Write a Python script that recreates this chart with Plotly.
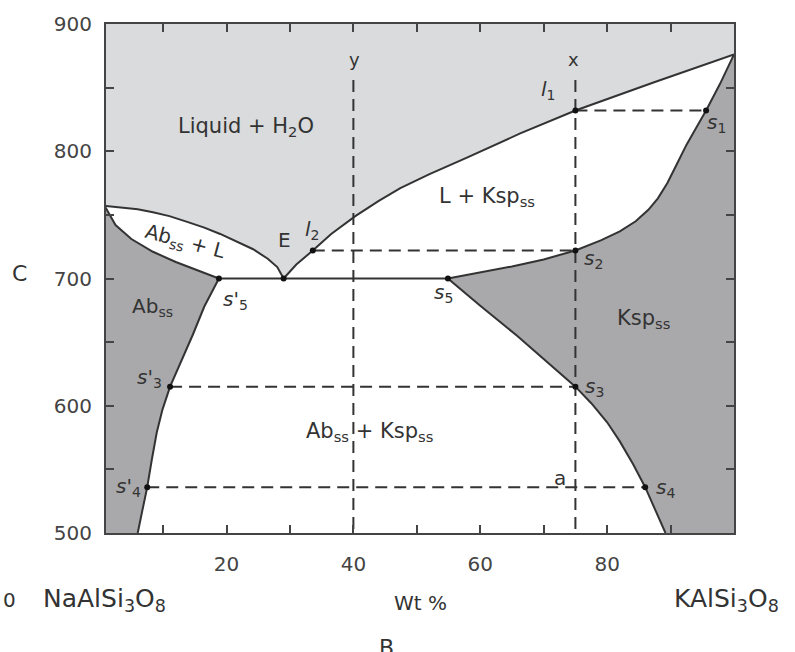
import plotly.graph_objects as go

# ---- data (x: wt% KAlSi3O8, y: temperature °C) ----
ab_liquidus_x = [0.8, 3.2, 6.0, 8.4, 11.0, 13.8, 16.5, 19.0, 21.5, 24.2, 26.5, 28.0, 29.0]
ab_liquidus_y = [757, 756, 754.5, 752, 749, 744.5, 740, 735, 729.5, 723, 715.5, 709, 700]

ab_solidus_x = [0.8, 2.5, 5.0, 8.4, 12.0, 15.5, 18.8]
ab_solidus_y = [757, 742, 731, 721, 713, 706, 700]

ksp_liquidus_x = [29.0, 31.0, 33.6, 36.5, 40.3, 44.0, 47.4, 52.0, 57.9, 66.3, 75.0, 87.3, 100.0]
ksp_liquidus_y = [700, 711, 722, 735, 749, 761, 771, 782, 795, 814, 832, 854, 876]

ksp_solidus_x = [54.9, 60.0, 65.0, 70.0, 75.0, 79.0, 82.0, 84.5, 86.5, 88.0, 89.5, 91.0,
                 92.5, 94.0, 95.6, 97.8, 100.0]
ksp_solidus_y = [700, 704.5, 709.5, 715, 722, 730, 737, 745, 754, 763, 775, 790,
                 805, 818, 832, 853, 876]

ksp_solvus_x = [54.9, 60.0, 65.8, 70.0, 75.0, 77.5, 80.0, 82.0, 84.1, 86.0, 87.6, 89.2]
ksp_solvus_y = [700, 678.5, 655, 637, 615, 602, 587, 572, 554, 536, 518.5, 500]

ab_solvus_x = [18.8, 16.5, 14.7, 12.8, 11.1, 9.9, 9.0, 8.2, 7.5, 6.7, 6.0]
ab_solvus_y = [700, 678, 656, 635, 615, 597, 579, 557, 536, 517, 500]

eutectic_T = 700
eutectic_x = [18.8, 54.9]

# tie lines / isopleths
tie_y = [832, 722, 615, 536]
tie_x0 = [75.0, 33.6, 11.1, 7.5]
tie_x1 = [95.6, 75.0, 75.0, 86.0]
iso_x = [40, 75]
iso_top = 856

# marked points
pt_x = [75.0, 95.6, 33.6, 75.0, 29.0, 18.8, 54.9, 11.1, 75.0, 7.5, 86.0]
pt_y = [832, 832, 722, 722, 700, 700, 700, 615, 615, 536, 536]

x_ticks = [20, 40, 60, 80]
x_minor = [10, 30, 50, 70, 90]
y_ticks = [500, 600, 700, 800, 900]
y_minor = [550, 650, 750, 850]

LIGHT = "#d9dbdc"
DARK = "#a9a9ab"
LINE = "#333333"
TXT = "#333333"
FONT = "DejaVu Sans"

fig = go.Figure()

# region below the liquidus (white)
below_x = ab_liquidus_x + ksp_liquidus_x[1:] + [100, 0.8]
below_y = ab_liquidus_y + ksp_liquidus_y[1:] + [500, 500]
fig.add_trace(go.Scatter(x=below_x, y=below_y, fill="toself", fillcolor="white",
                         line=dict(width=0), mode="lines", hoverinfo="skip"))

# Ab solid solution field
abss_x = ab_solidus_x + ab_solvus_x[1:] + [0.8]
abss_y = ab_solidus_y + ab_solvus_y[1:] + [500]
fig.add_trace(go.Scatter(x=abss_x, y=abss_y, fill="toself", fillcolor=DARK,
                         line=dict(width=0), mode="lines", hoverinfo="skip"))

# Ksp solid solution field
kss_x = ksp_solidus_x[::-1] + ksp_solvus_x[1:] + [100]
kss_y = ksp_solidus_y[::-1] + ksp_solvus_y[1:] + [500]
fig.add_trace(go.Scatter(x=kss_x, y=kss_y, fill="toself", fillcolor=DARK,
                         line=dict(width=0), mode="lines", hoverinfo="skip"))

# boundary curves
for cx, cy in [(ab_liquidus_x, ab_liquidus_y), (ab_solidus_x, ab_solidus_y),
               (ksp_liquidus_x, ksp_liquidus_y), (ksp_solidus_x, ksp_solidus_y),
               (ksp_solvus_x, ksp_solvus_y), (ab_solvus_x, ab_solvus_y),
               (eutectic_x, [eutectic_T, eutectic_T])]:
    fig.add_trace(go.Scatter(x=cx, y=cy, mode="lines",
                             line=dict(color=LINE, width=2), hoverinfo="skip"))

# dashed tie lines
hx, hy = [], []
for y0, a, b in zip(tie_y, tie_x0, tie_x1):
    hx += [a, b, None]
    hy += [y0, y0, None]
fig.add_trace(go.Scatter(x=hx, y=hy, mode="lines",
                         line=dict(color=LINE, width=2, dash="12px,7px"), hoverinfo="skip"))
vx, vy = [], []
for xv in iso_x:
    vx += [xv, xv, None]
    vy += [iso_top, 500, None]
fig.add_trace(go.Scatter(x=vx, y=vy, mode="lines",
                         line=dict(color=LINE, width=2, dash="12px,7px"), hoverinfo="skip"))

# points
fig.add_trace(go.Scatter(x=pt_x, y=pt_y, mode="markers",
                         marker=dict(color="#111", size=6), hoverinfo="skip"))

# labels inside plot
labels = [
    ("Liquid + H<sub>2</sub>O", 23, 819, 21, 0),
    ("Ab<sub>ss</sub> + L", 13.4, 728.5, 20, 15),
    ("E", 29.1, 730.5, 20, 0),
    ("<i>l</i><sub>2</sub>", 33.4, 738, 20, 0),
    ("L + Ksp<sub>ss</sub>", 61, 764, 21, 0),
    ("<i>l</i><sub>1</sub>", 70.6, 848, 20, 0),
    ("x", 74.7, 872, 18, 0),
    ("y", 40.2, 872, 18, 0),
    ("<i>s</i><sub>1</sub>", 97.2, 822, 20, 0),
    ("<i>s</i><sub>2</sub>", 77.8, 715, 20, 0),
    ("<i>s</i><sub>5</sub>", 54.2, 689, 20, 0),
    ("<i>s</i>'<sub>5</sub>", 21.4, 683, 20, 0),
    ("Ab<sub>ss</sub>", 8.3, 678, 20, 0),
    ("Ksp<sub>ss</sub>", 85.7, 668, 21, 0),
    ("<i>s</i>'<sub>3</sub>", 7.9, 622, 20, 0),
    ("<i>s</i><sub>3</sub>", 78.0, 615, 20, 0),
    ("Ab<sub>ss</sub> + Ksp<sub>ss</sub>", 42.6, 579, 21, 0),
    ("a", 72.6, 543, 20, 0),
    ("<i>s</i><sub>4</sub>", 89.2, 535, 20, 0),
    ("<i>s</i>'<sub>4</sub>", 4.6, 536, 20, 0),
]
for t, x, y, s, ang in labels:
    fig.add_annotation(x=x, y=y, text=t, showarrow=False, textangle=ang,
                       font=dict(family=FONT, size=s, color=TXT))

# labels outside plot (paper coords)
outside = [
    ("C", -0.137, 0.51, 22, "center"),
    ("0", -0.153, -0.131, 20, "center"),
    ("NaAlSi<sub>3</sub>O<sub>8</sub>", -0.002, -0.131, 25, "center"),
    ("Wt %", 0.5, -0.137, 20, "center"),
    ("KAlSi<sub>3</sub>O<sub>8</sub>", 0.901, -0.131, 25, "left"),
    ("B", 0.446, -0.225, 22, "center"),
]
for t, x, y, s, xa in outside:
    fig.add_annotation(x=x, y=y, xref="paper", yref="paper", text=t, showarrow=False,
                       xanchor=xa, yanchor="middle",
                       font=dict(family=FONT, size=s, color=TXT))

axis_common = dict(showgrid=False, zeroline=False, showline=True, linecolor="#444",
                   linewidth=2, mirror="ticks", ticks="inside", ticklen=8, tickwidth=2,
                   tickcolor="#444", tickfont=dict(family=FONT, size=20, color="#444"))

fig.update_xaxes(range=[1, 100], tickmode="array", tickvals=x_ticks, ticklabelstandoff=12,
                 minor=dict(tickmode="array", tickvals=x_minor, ticks="inside", ticklen=8,
                            tickwidth=2, tickcolor="#444", showgrid=False),
                 **axis_common)
fig.update_yaxes(range=[500, 900], tickmode="array", tickvals=y_ticks, ticklabelstandoff=8,
                 minor=dict(tickmode="array", tickvals=y_minor, ticks="inside", ticklen=8,
                            tickwidth=2, tickcolor="#444", showgrid=False),
                 **axis_common)

fig.update_layout(width=795, height=652, margin=dict(l=106, r=61, t=21, b=119),
                  paper_bgcolor="white", plot_bgcolor=LIGHT, showlegend=False)

fig.write_html("out.html")
